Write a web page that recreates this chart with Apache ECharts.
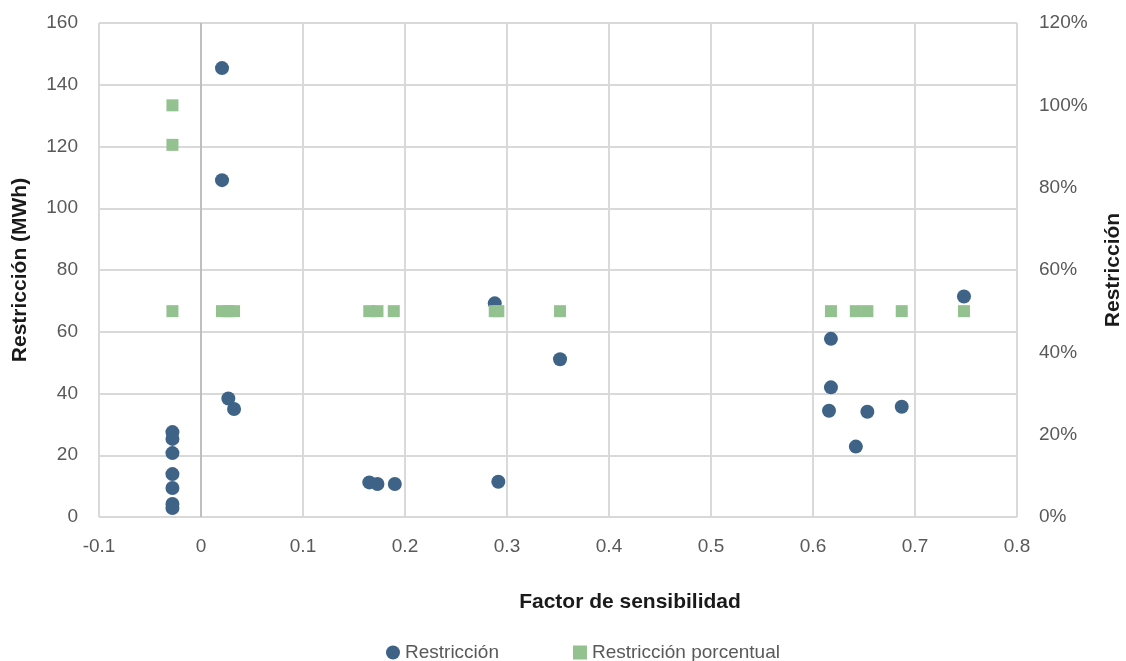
<!DOCTYPE html>
<html>
<head>
<meta charset="utf-8">
<script src="https://cdn.jsdelivr.net/npm/echarts@6/dist/echarts.min.js"></script>
<style>html,body{margin:0;padding:0;background:#fff}#c{width:1126px;height:661px}</style>
</head>
<body>
<div id="c"></div>
<script>
// Factor de sensibilidad (x) for each point
const restriccionX = [0.0206, 0.0206, -0.028, -0.028, -0.028, -0.028, -0.028, -0.028, -0.028, 0.0268, 0.0324,
  0.165, 0.173, 0.190, 0.2915, 0.288, 0.352,
  0.6176, 0.6176, 0.6157, 0.6533, 0.687, 0.642, 0.748];
// Restricción (MWh)
const restriccionY = [145.4, 109.1, 27.5, 25.3, 20.7, 13.9, 9.4, 4.2, 2.9, 38.4, 35.0,
  11.2, 10.7, 10.7, 11.4, 69.2, 51.1,
  57.7, 42.0, 34.4, 34.1, 35.7, 22.8, 71.4];
// Restricción porcentual
const porcentualX = [-0.028, -0.028, -0.028, 0.0206, 0.0268, 0.0324,
  0.165, 0.173, 0.189, 0.288, 0.2915, 0.352,
  0.6176, 0.642, 0.6533, 0.687, 0.748];
const porcentualY = [1.00, 0.904, 0.50, 0.50, 0.50, 0.50,
  0.50, 0.50, 0.50, 0.50, 0.50, 0.50,
  0.50, 0.50, 0.50, 0.50, 0.50];
const seriesNames = ['Restricción', 'Restricción porcentual'];
const xTitle = 'Factor de sensibilidad';
const yLeftTitle = 'Restricción (MWh)';
const yRightTitle = 'Restricción';

const FONT = '"Liberation Sans Narrow", "Arial Narrow", "Liberation Sans", sans-serif';
const chart = echarts.init(document.getElementById('c'));
const zip = (a, b) => a.map((v, i) => [v, b[i]]);

chart.setOption({
  animation: false,
  backgroundColor: '#fff',
  grid: { left: 99, right: 109, top: 23, bottom: 144, outerBoundsMode: 'none', containLabel: false },
  legend: {
    left: 381, top: 638,
    itemGap: 74, itemWidth: 14, itemHeight: 14,
    textStyle: { fontFamily: FONT, fontSize: 19, color: '#595959' },
    data: [
      { name: seriesNames[0], icon: 'circle' },
      { name: seriesNames[1], icon: 'rect' }
    ]
  },
  xAxis: {
    type: 'value', min: -0.1, max: 0.8, interval: 0.1,
    name: xTitle, nameLocation: 'middle', nameGap: 75,
    nameTextStyle: { fontFamily: FONT, fontSize: 21, fontWeight: 'bold', color: '#1a1a1a', padding: [0, 0, 0, 144] },
    axisLine: { show: false },
    axisTick: { show: false },
    axisLabel: { fontFamily: FONT, fontSize: 19, color: '#595959', margin: 20,
      formatter: v => (Math.round(v * 10) / 10).toString() },
    splitLine: { show: true, lineStyle: { color: '#d9d9d9', width: 2 } }
  },
  yAxis: [{
    type: 'value', min: 0, max: 160, interval: 20, position: 'left',
    name: yLeftTitle, nameLocation: 'middle', nameGap: 68, nameRotate: 90,
    nameTextStyle: { fontFamily: FONT, fontSize: 21, fontWeight: 'bold', color: '#1a1a1a' },
    axisLine: { show: false }, axisTick: { show: false },
    axisLabel: { fontFamily: FONT, fontSize: 19, color: '#595959', margin: 21 },
    splitLine: { show: true, lineStyle: { color: '#d9d9d9', width: 2 } }
  }, {
    type: 'value', min: 0, max: 1.2, interval: 0.2, position: 'right',
    name: yRightTitle, nameLocation: 'middle', nameGap: 86, nameRotate: 90,
    nameTextStyle: { fontFamily: FONT, fontSize: 21, fontWeight: 'bold', color: '#1a1a1a' },
    axisLine: { show: false }, axisTick: { show: false },
    axisLabel: { fontFamily: FONT, fontSize: 19, color: '#595959', margin: 22,
      formatter: v => Math.round(v * 100) + '%' },
    splitLine: { show: false }
  }],
  series: [{
    name: seriesNames[0], type: 'scatter', yAxisIndex: 0,
    symbol: 'circle', symbolSize: 14,
    itemStyle: { color: '#3e6386', opacity: 1 },
    data: zip(restriccionX, restriccionY),
    markLine: {
      silent: true, symbol: 'none', label: { show: false },
      lineStyle: { color: '#bfbfbf', width: 2, type: 'solid' },
      data: [{ xAxis: 0 }]
    },
    z: 2
  }, {
    name: seriesNames[1], type: 'scatter', yAxisIndex: 1,
    symbol: 'rect', symbolSize: 12,
    itemStyle: { color: '#93c18f', opacity: 1 },
    data: zip(porcentualX, porcentualY),
    z: 3
  }]
});
</script>
</body>
</html>
